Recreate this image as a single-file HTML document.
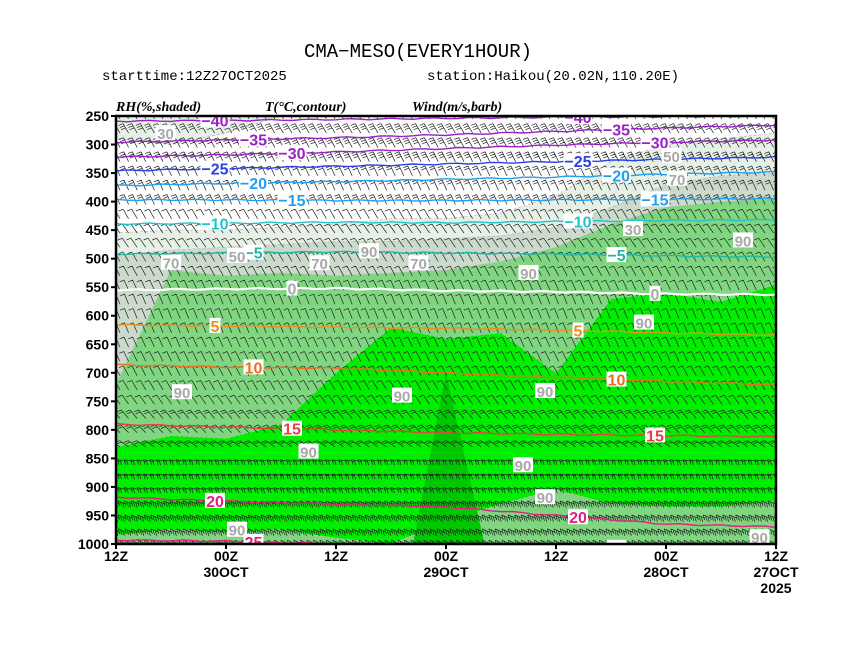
<!DOCTYPE html>
<html><head><meta charset="utf-8"><style>
html,body{margin:0;padding:0;background:#fff;}
svg{display:block;font-family:"Liberation Mono",monospace;}
</style></head><body>
<svg id="chart" width="856" height="662" viewBox="0 0 856 662">
<text x="418" y="57" text-anchor="middle" font-size="19">CMA−MESO(EVERY1HOUR)</text>
<text x="102" y="80" font-size="14">starttime:12Z27OCT2025</text>
<text x="427" y="80" font-size="14">station:Haikou(20.02N,110.20E)</text>
<g font-family="Liberation Serif,serif" font-style="italic" font-weight="bold" font-size="14">
<text x="116" y="111">RH(%,shaded)</text>
<text x="265" y="111">T(°C,contour)</text>
<text x="412" y="111">Wind(m/s,barb)</text>
</g>
<defs><clipPath id="pc"><rect x="116" y="116" width="660" height="428"/></clipPath></defs>
<g id="plot" clip-path="url(#pc)"></g>
<g id="axes"></g>
</svg>
<script>
// ---- data ----
const pressureTicks=[250,300,350,400,450,500,550,600,650,700,750,800,850,900,950,1000];
const timeTickLabels=["12Z","00Z","12Z","00Z","12Z","00Z","12Z"];
const dateLabels=["","30OCT","","29OCT","","28OCT","27OCT"];
const rh30Top=[455,450,450,445,440,430,430,420,390,330,300,290,280];
const rh50Top=[495,485,480,475,470,470,465,460,445,410,370,355,350];
const rh70Top=[720,520,530,525,530,525,520,505,480,440,410,400,395];
const rh90Top=[830,810,815,790,700,620,640,630,700,570,560,575,545];
const rhLowTop=[985,975,980,975,990,1000,960,930,905,930,935,935,925];
const rhDarkX=[5.4,6.0,6.7];
const rhDarkTop=[1000,700,1000];
const tempLevels=[-40,-35,-30,-25,-20,-15,-10,-5,0,5,10,15,20,25];
const tempColors=["#9a20c8","#9a20c8","#9a20c8","#2a40e8","#20a0f0","#20a0f0","#20c4c8","#20b8a0","#ffffff","#e89020","#e87020","#e84040","#e02080","#e02080"];
const isoP={
"-40":[259,258,256,254,252,251,250],
"-35":[296,292,288,283,277,271,266],
"-30":[322,318,313,307,301,296,292],
"-25":[346,342,338,334,330,326,322],
"-20":[372,368,365,361,357,352,348],
"-15":[397,397,398,398,397,396,395],
"-10":[439,438,436,437,435,433,432],
"-5":[492,490,488,490,492,495,497],
"0":[555,553,552,556,558,562,563],
"5":[616,618,620,622,625,630,634],
"10":[686,690,692,700,708,715,721],
"15":[790,795,800,805,808,810,812],
"20":[918,925,930,935,950,965,970],
"25":[993,995,1000,1002,1005,1008,1010]};
const tempLabelT=[1.2,4.5];
const windLevels=[255,280,305,330,355,380,405,430,455,480,505,530,555,580,605,630,655,680,705,730,755,780,805,830,855,880,905,930,955,980,1000];
const windTilt=[-30,-30,-28,-26,-25,-24,-25,-30,-35,-35,-30,-28,-25,-22,-22,-22,-24,-26,-28,-30,-35,-40,-45,-55,-80,-80,-75,-70,-68,-65,-65];
const windSpeed=[20,22,18,15,12,10,8,6,5,5,4,4,4,4,5,5,6,6,6,7,7,8,8,9,10,11,12,14,15,15,12];
const rhLabels=[[0.9,280,"30"],[2.2,495,"50"],[1.0,507,"70"],[3.7,508,"70"],[5.5,508,"70"],[4.6,487,"90"],[7.5,525,"90"],[1.2,734,"90"],[3.5,838,"90"],[5.2,740,"90"],[7.8,732,"90"],[7.4,862,"90"],[7.8,918,"90"],[9.4,448,"30"],[10.1,320,"50"],[10.2,360,"70"],[11.4,468,"90"],[9.6,612,"90"],[11.7,988,"90"],[2.2,975,"90"]];
// ---- scales ----
const X0=116,X1=776,Y0=116,Y1=544;
const xT=t=>X0+(X1-X0)*t/6;
const xR=i=>X0+(X1-X0)*i/12;
const yP=p=>Y0+(Y1-Y0)*(p-250)/750;
const NS="http://www.w3.org/2000/svg";
const plot=document.getElementById('plot'),axes=document.getElementById('axes');
function mk(tag,attrs,parent){const e=document.createElementNS(NS,tag);for(const k in attrs)e.setAttribute(k,attrs[k]);parent.appendChild(e);return e;}
function band(top,bottomP,fill,name){
  let d="M"+xR(0)+","+yP(bottomP);
  top.forEach((p,i)=>{d+=" L"+xR(i)+","+yP(p);});
  d+=" L"+xR(12)+","+yP(bottomP)+"Z";
  const e=mk('path',{d:d,fill:fill,stroke:"#bbb","stroke-dasharray":"3,2","stroke-width":"0.8"},plot);
  
  
}
band(rh30Top,1000,"#e6f0e6","rh-30-shade");
band(rh50Top,1000,"#ccdacc","rh-50-shade");
band(rh70Top,1000,"#80d680","rh-70-shade");
band(rh90Top,1000,"#00ee00","rh-90-shade");
band(rhLowTop,1000,"#80d680","rh-lower-70-shade");
{let d="M"+xR(0)+",116 L"+xR(0)+","+yP(290)+" L"+xR(1)+","+yP(300)+" L"+xR(2)+","+yP(280)+" L"+xR(3)+",116Z";
const e=mk('path',{d:d,fill:"#e6f0e6",stroke:"#bbb","stroke-dasharray":"3,2"},plot);

}
{let d="M"+xR(rhDarkX[0])+","+yP(1000);rhDarkX.forEach((x,i)=>{d+=" L"+xR(x)+","+yP(rhDarkTop[i]);});d+="Z";
const e=mk('path',{d:d,fill:"#00c800"},plot);

}
// wind barbs
windLevels.forEach((p,li)=>{
  const y=yP(p);const a=windTilt[li]*Math.PI/180;const sp=windSpeed[li];
  const dx=Math.sin(a),dy=-Math.cos(a);
  const low=p>=850;
  const step=low?6.5:8.6;
  let d="";
  for(let x=X0+4;x<X1+10;x+=step){
    const L=low?9:11;const ex=x+dx*L,ey=y+dy*L;
    d+="M"+x.toFixed(1)+","+y.toFixed(1)+"L"+ex.toFixed(1)+","+ey.toFixed(1);
    const n=Math.max(1,Math.min(3,Math.round(sp/5)));
    for(let k=0;k<n;k++){const bx=ex-dx*k*2.5,by=ey-dy*k*2.5;
      const fx=low?0.3:-0.9, fy=low?1:0.35;
      d+="M"+bx.toFixed(1)+","+by.toFixed(1)+"l"+(fx*5).toFixed(1)+","+(fy*5).toFixed(1);}
  }
  const e=mk('path',{d:d,stroke:"#222","stroke-width":"0.7",fill:"none"},plot);
  
  
});
// temperature contours
tempLevels.forEach((t,ti)=>{
  const ps=isoP[String(t)];let d="";
  for(let s=0;s<=60;s++){const tt=s/10;const i=Math.min(5,Math.floor(tt));const f=tt-i;
    const p=ps[i]*(1-f)+ps[i+1]*f+Math.sin(s*1.7+ti)*1.2;
    d+=(s?"L":"M")+xT(tt).toFixed(1)+","+yP(p).toFixed(1);}
  const e=mk('path',{d:d,stroke:tempColors[ti],"stroke-width":t===0?2.2:1.4,fill:"none"},plot);
  
  
  tempLabelT.forEach((tt0)=>{const tt=tt0+(ti%3)*0.35-0.3;const i=Math.min(5,Math.floor(tt)),f=tt-i;const p=ps[i]*(1-f)+ps[i+1]*f;
    const x=xT(tt),y=yP(p);const txt=String(t).replace('-','−');
    const w=txt.length*9+2;
    const r=mk('rect',{x:x-w/2,y:y-8,width:w,height:15,fill:"#fff"},plot);
    
    
    const tx=mk('text',{x:x,y:y+6,"text-anchor":"middle","font-size":"16","font-weight":"bold","font-family":"Liberation Sans,sans-serif",fill:t===0?"#aaa":tempColors[ti]},plot);
    tx.textContent=txt;
    
    });
});
rhLabels.forEach(([i,p,s])=>{const x=xR(i),y=yP(p);
  const r=mk('rect',{x:x-10,y:y-8,width:20,height:15,fill:"#fff"},plot);
  
  
  const t=mk('text',{x:x,y:y+6,"text-anchor":"middle","font-size":"15","font-weight":"bold","font-family":"Liberation Sans,sans-serif",fill:"#a8a8a8"},plot);
  t.textContent=s;
  
  });
{const f=mk('rect',{x:X0,y:Y0,width:X1-X0,height:Y1-Y0,fill:"none",stroke:"#000","stroke-width":"2.5"},axes);

}
pressureTicks.forEach(p=>{const y=yP(p);
  const l=mk('line',{x1:X0-5,x2:X0,y1:y,y2:y,stroke:"#000","stroke-width":"2"},axes);
  
  
  const t=mk('text',{x:X0-7,y:y+5,"text-anchor":"end","font-size":"14","font-weight":"bold","font-family":"Liberation Sans,sans-serif"},axes);
  t.textContent=p;
  
  });
timeTickLabels.forEach((s,i)=>{const x=xT(i);
  const l=mk('line',{x1:x,x2:x,y1:Y1,y2:Y1+5,stroke:"#000","stroke-width":"2"},axes);
  
  
  const t=mk('text',{x:x,y:Y1+17,"text-anchor":"middle","font-size":"14","font-weight":"bold","font-family":"Liberation Sans,sans-serif"},axes);
  t.textContent=s;
  
  
  if(dateLabels[i]){const d=mk('text',{x:x,y:Y1+33,"text-anchor":"middle","font-size":"14","font-weight":"bold","font-family":"Liberation Sans,sans-serif"},axes);
    d.textContent=dateLabels[i];
    
    }
});
{const y=mk('text',{x:xT(6),y:Y1+49,"text-anchor":"middle","font-size":"14","font-weight":"bold","font-family":"Liberation Sans,sans-serif"},axes);
y.textContent="2025";

}
</script>
</body></html>
